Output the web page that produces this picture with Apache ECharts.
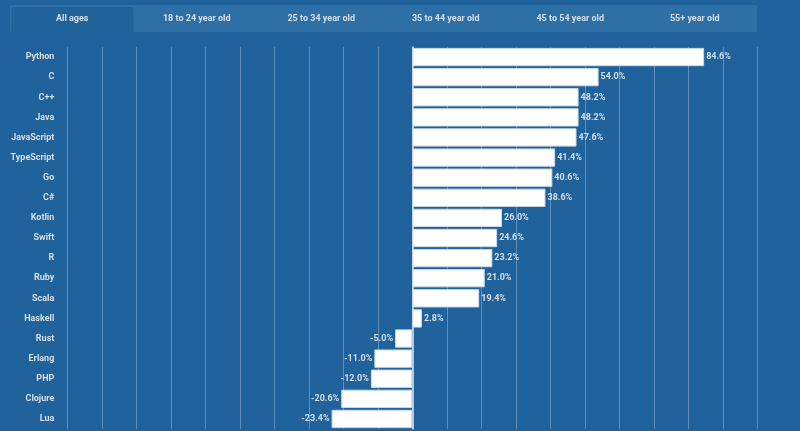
<!DOCTYPE html>
<html>
<head>
<meta charset="utf-8">
<script src="https://cdn.jsdelivr.net/npm/echarts@6/dist/echarts.min.js"></script>
<style>
html,body{margin:0;padding:0;background:#20629b;}
#main{width:800px;height:431px;}
</style>
</head>
<body>
<div id="main"></div>
<script>
const tabs = ["All ages", "18 to 24 year old", "25 to 34 year old", "35 to 44 year old", "45 to 54 year old", "55+ year old"];
const languages = ["Python", "C", "C++", "Java", "JavaScript", "TypeScript", "Go", "C#", "Kotlin", "Swift", "R", "Ruby", "Scala", "Haskell", "Rust", "Erlang", "PHP", "Clojure", "Lua"];
const values = [84.6, 54.0, 48.2, 48.2, 47.6, 41.4, 40.6, 38.6, 26.0, 24.6, 23.2, 21.0, 19.4, 2.8, -5.0, -11.0, -12.0, -20.6, -23.4];

const chart = echarts.init(document.getElementById('main'));

const stripLeft = 10, stripRight = 757, stripTop = 5, stripBottom = 32;
const tabW = (stripRight - stripLeft) / tabs.length;
const graphics = [
  {type: 'rect', shape: {x: stripLeft, y: stripTop, width: stripRight - stripLeft, height: stripBottom - stripTop, r: 2}, style: {fill: '#2e6fa6'}, silent: true},
  {type: 'rect', shape: {x: stripLeft + 1.5, y: stripTop + 2, width: tabW - 2.5, height: stripBottom - stripTop - 2, r: [2,2,0,0]}, style: {fill: '#21629b'}, silent: true}
];
tabs.forEach((t, i) => {
  graphics.push({
    type: 'text', x: stripLeft + tabW * (i + 0.5), y: 18.5,
    style: {text: t, fill: '#d6dee8', font: 'bold 9px Roboto', align: 'center', verticalAlign: 'middle'},
    silent: true
  });
});

chart.setOption({
  backgroundColor: '#20629b',
  animation: false,
  graphic: graphics,
  grid: {left: 67.3, right: 42.7, top: 47, bottom: 2, containLabel: false},
  xAxis: {
    type: 'value', min: -100, max: 100, interval: 10,
    axisLabel: {show: false}, axisLine: {show: false}, axisTick: {show: false},
    splitLine: {show: true, lineStyle: {color: 'rgba(200,220,240,0.38)', width: 1}}
  },
  yAxis: {
    type: 'category', data: languages, inverse: true, offset: 7,
    axisLine: {show: true, lineStyle: {color: '#dbe4ee', width: 1.5}},
    axisTick: {show: false},
    axisLabel: {color: '#d6dee8', fontFamily: 'Roboto', fontWeight: 'bold', fontSize: 9, margin: 6}
  },
  series: [{
    type: 'bar', data: values, barCategoryGap: '9%',
    itemStyle: {color: '#ffffff', borderColor: '#c9d8e6', borderWidth: 1},
    label: {
      show: true, distance: 2, color: '#d6dee8', fontFamily: 'Roboto', fontWeight: 'bold', fontSize: 9,
      position: 'right',
      formatter: p => p.value.toFixed(1) + '%'
    },
    labelLayout: null
  }]
});
// negative bars get labels on the left
chart.setOption({
  series: [{
    data: values.map(v => v < 0 ? {value: v, label: {position: 'left'}} : v)
  }]
});
</script>
</body>
</html>
